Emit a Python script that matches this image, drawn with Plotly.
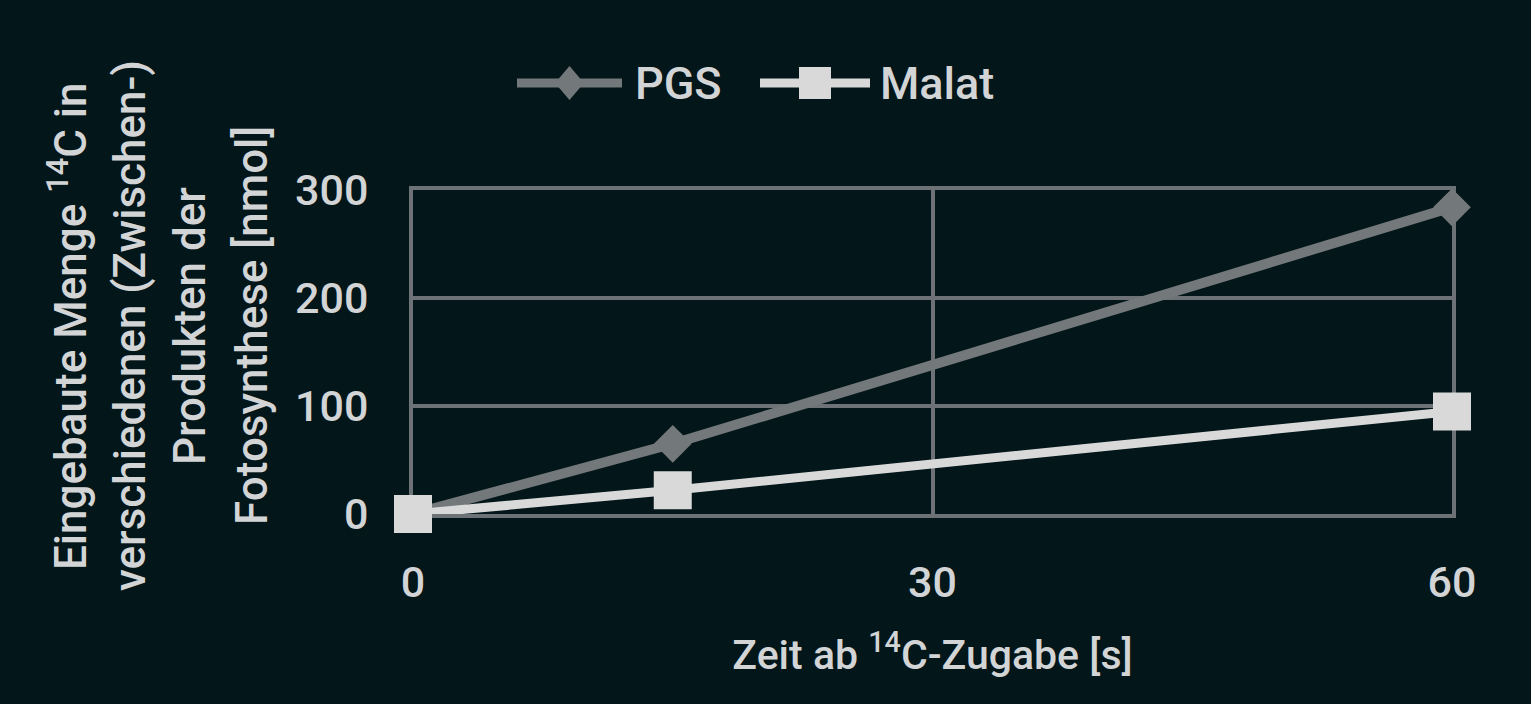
import plotly.graph_objects as go

# Werte
zeit_s = [0, 15, 60]
pgs_nmol = [0, 65, 284]
malat_nmol = [0, 22, 95]

x_ticks = [0, 30, 60]
y_ticks = [0, 100, 200, 300]

y_title_lines = [
    "Eingebaute Menge <sup>14</sup>C in",
    "verschiedenen (Zwischen-)",
    "Produkten der",
    "Fotosynthese [nmol]",
]
x_title = "Zeit ab <sup>14</sup>C-Zugabe [s]"

bg = "#03161a"
grid_col = "#6c7275"
pgs_col = "#73787a"
malat_col = "#d9d9d9"
text_col = "#d2d4d5"
font_fam = "Roboto"

fig = go.Figure()

fig.add_trace(go.Scatter(
    x=zeit_s, y=pgs_nmol, name="PGS", mode="lines+markers",
    line=dict(color=pgs_col, width=10),
    marker=dict(symbol="diamond", size=29, color=pgs_col),
    cliponaxis=False, showlegend=False,
))
fig.add_trace(go.Scatter(
    x=zeit_s, y=malat_nmol, name="Malat", mode="lines+markers",
    line=dict(color=malat_col, width=9),
    marker=dict(symbol="square", size=38, color=malat_col),
    cliponaxis=False, showlegend=False,
))

# plot area in pixels: x 413..1452, y 190..514
L, R, T, B = 413, 79, 190, 190
W, H = 1531, 704
pw, ph = W - L - R, H - T - B


def px_x(p):
    return (p - L) / pw


def px_y(p):
    return (H - B - p) / ph


# hand-made legend (line sample with marker in the middle)
shapes = []
annotations = []
legend_items = [
    ("PGS", pgs_col, "diamond", 517, 622, 29, 34, 633),
    ("Malat", malat_col, "square", 760, 870, 32, 32, 878),
]
ly = 83
for label, col, sym, x0, x1, mw, mh, tx in legend_items:
    shapes.append(dict(type="line", xref="paper", yref="paper",
                       x0=px_x(x0), x1=px_x(x1), y0=px_y(ly), y1=px_y(ly),
                       line=dict(color=col, width=9)))
    cx = (x0 + x1) / 2
    if sym == "diamond":
        path = "M%f,%f L%f,%f L%f,%f L%f,%f Z" % (
            px_x(cx - mw / 2), px_y(ly), px_x(cx), px_y(ly - mh / 2),
            px_x(cx + mw / 2), px_y(ly), px_x(cx), px_y(ly + mh / 2))
        shapes.append(dict(type="path", xref="paper", yref="paper", path=path,
                           fillcolor=col, line=dict(width=0)))
    else:
        shapes.append(dict(type="rect", xref="paper", yref="paper",
                           x0=px_x(cx - mw / 2), x1=px_x(cx + mw / 2),
                           y0=px_y(ly + mh / 2), y1=px_y(ly - mh / 2),
                           fillcolor=col, line=dict(width=0)))
    annotations.append(dict(text=label, xref="paper", yref="paper",
                            x=px_x(tx), y=px_y(ly), xanchor="left", yanchor="middle",
                            showarrow=False,
                            font=dict(size=45, color=text_col, family=font_fam, weight=500)))

# y axis title as four centred rotated lines
col_x = [68, 130, 190, 252]
for line_txt, cxp in zip(y_title_lines, col_x):
    annotations.append(dict(text=line_txt, xref="paper", yref="paper",
                            x=px_x(cxp), y=px_y(326), xanchor="center", yanchor="middle",
                            textangle=-90, showarrow=False,
                            font=dict(size=44, color=text_col, family=font_fam, weight=500)))

fig.update_layout(
    width=W, height=H,
    paper_bgcolor=bg, plot_bgcolor=bg,
    margin=dict(l=L, r=R, t=T, b=B, autoexpand=False),
    font=dict(family=font_fam, color=text_col, weight=500),
    showlegend=False,
    shapes=shapes,
    annotations=annotations,
    xaxis=dict(
        range=[0, 60], tickvals=x_ticks, showgrid=True, gridcolor=grid_col, gridwidth=4,
        zeroline=False, showline=True, mirror=True, linecolor=grid_col, linewidth=4,
        tickfont=dict(size=43, color=text_col, weight=500), ticklabelstandoff=27,
        layer="below traces",
        title=dict(text=x_title, font=dict(size=41, color=text_col, weight=500), standoff=36),
    ),
    yaxis=dict(
        range=[0, 300], tickvals=y_ticks, showgrid=True, gridcolor=grid_col, gridwidth=4,
        zeroline=False, showline=True, mirror=True, linecolor=grid_col, linewidth=4,
        tickfont=dict(size=43, color=text_col, weight=500), ticklabelstandoff=32,
        layer="below traces",
    ),
)

fig.write_html(
    "out.html",
    config={"displayModeBar": False},
    post_script="document.body.style.margin='0';document.body.style.background='%s';" % bg,
)
